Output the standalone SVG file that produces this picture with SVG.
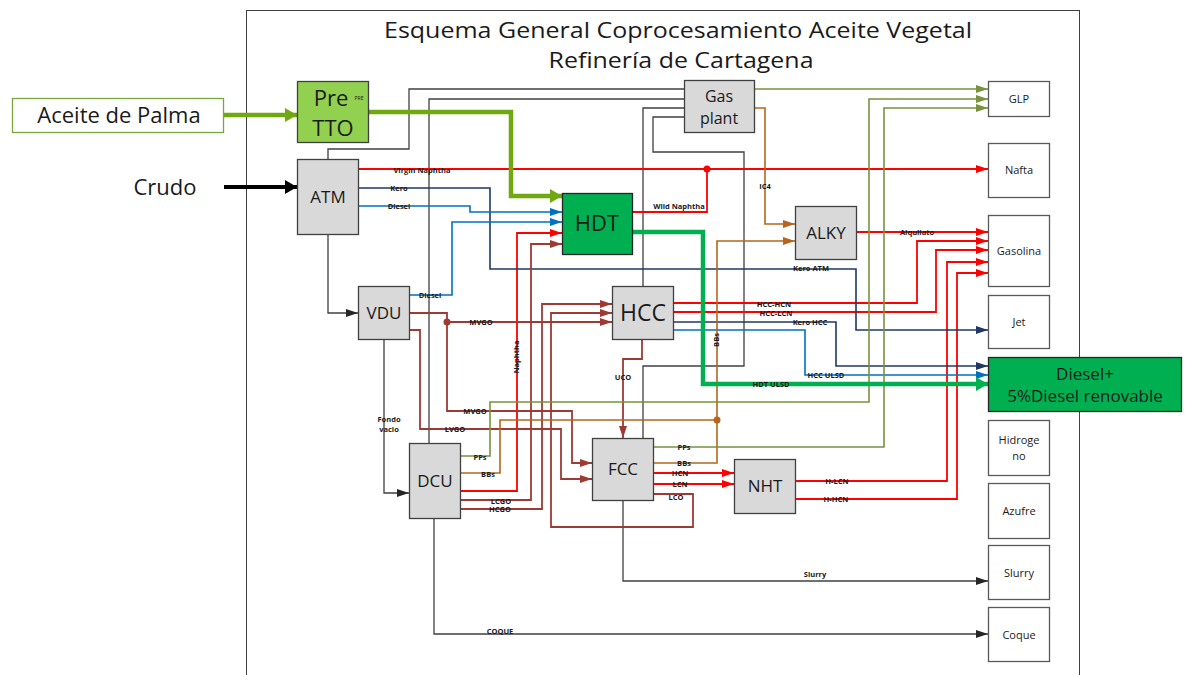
<svg xmlns="http://www.w3.org/2000/svg" width="1186" height="675" viewBox="0 0 1186 675">
<defs>
<style>
.fr{fill:none;stroke:#404040;stroke-width:1}
.unit{fill:#d9d9d9;stroke:#404040;stroke-width:1.3}
.out{fill:#fff;stroke:#595959;stroke-width:1.3}
.big{font-family:"Open Sans","Liberation Sans",sans-serif;fill:#1a1a1a;text-anchor:middle}
.lb{font-family:"Open Sans","Liberation Sans",sans-serif;font-size:7.5px;font-weight:bold;fill:#1a1a1a;text-anchor:middle}
.ob{font-family:"Open Sans","Liberation Sans",sans-serif;font-size:11px;fill:#1a1a1a;text-anchor:middle}
.k{fill:none;stroke:#404040;stroke-width:1.3}
.r{fill:none;stroke:#ff0000;stroke-width:1.8}
.db{fill:none;stroke:#203864;stroke-width:1.6}
.b{fill:none;stroke:#0070c0;stroke-width:1.6}
.br{fill:none;stroke:#9e3a34;stroke-width:1.8}
.or{fill:none;stroke:#b5651d;stroke-width:1.6}
.ol{fill:none;stroke:#77933c;stroke-width:1.6}
.g{fill:none;stroke:#00b050;stroke-width:4.5}
.pt{fill:none;stroke:#70a810;stroke-width:4.5}
.bk{fill:none;stroke:#000;stroke-width:4}
</style>
<marker id="mk" markerUnits="userSpaceOnUse" markerWidth="12" markerHeight="8" refX="12" refY="4" orient="auto"><path d="M0,0L12,4L0,8z" fill="#262626"/></marker>
<marker id="mr" markerUnits="userSpaceOnUse" markerWidth="12" markerHeight="8" refX="12" refY="4" orient="auto"><path d="M0,0L12,4L0,8z" fill="#ff0000"/></marker>
<marker id="mdb" markerUnits="userSpaceOnUse" markerWidth="12" markerHeight="8" refX="12" refY="4" orient="auto"><path d="M0,0L12,4L0,8z" fill="#203864"/></marker>
<marker id="mb" markerUnits="userSpaceOnUse" markerWidth="12" markerHeight="8" refX="12" refY="4" orient="auto"><path d="M0,0L12,4L0,8z" fill="#0070c0"/></marker>
<marker id="mbr" markerUnits="userSpaceOnUse" markerWidth="12" markerHeight="8" refX="12" refY="4" orient="auto"><path d="M0,0L12,4L0,8z" fill="#9e3a34"/></marker>
<marker id="mor" markerUnits="userSpaceOnUse" markerWidth="12" markerHeight="8" refX="12" refY="4" orient="auto"><path d="M0,0L12,4L0,8z" fill="#b5651d"/></marker>
<marker id="mol" markerUnits="userSpaceOnUse" markerWidth="12" markerHeight="8" refX="12" refY="4" orient="auto"><path d="M0,0L12,4L0,8z" fill="#77933c"/></marker>
<marker id="mg" markerUnits="userSpaceOnUse" markerWidth="12" markerHeight="14" refX="12" refY="7" orient="auto"><path d="M0,0L12,7L0,14z" fill="#00b050"/></marker>
<marker id="mpt" markerUnits="userSpaceOnUse" markerWidth="12" markerHeight="14" refX="12" refY="7" orient="auto"><path d="M0,0L12,7L0,14z" fill="#70a810"/></marker>
<marker id="mbk" markerUnits="userSpaceOnUse" markerWidth="12" markerHeight="14" refX="12" refY="7" orient="auto"><path d="M0,0L12,7L0,14z" fill="#000"/></marker>
</defs>
<rect x="0" y="0" width="1186" height="675" fill="#fff"/>
<rect class="fr" x="246.5" y="10.5" width="833" height="700"/>
<text class="big" x="678" y="38" font-size="22" textLength="588" lengthAdjust="spacingAndGlyphs">Esquema General Coprocesamiento Aceite Vegetal</text>
<text class="big" x="681" y="68" font-size="22" textLength="265" lengthAdjust="spacingAndGlyphs">Refinería de Cartagena</text>

<g id="connectors">
<path class="k" d="M328,159V149H409V89H684"/>
<path class="k" d="M429,443V99H684"/>
<path class="k" d="M684,108H643V286"/>
<path class="k" d="M684,117H653V152H744V366H643V438"/>
<path class="k" d="M328,234V313H358" marker-end="url(#mk)"/>
<path class="k" d="M384,339V493H409" marker-end="url(#mk)"/>
<path class="k" d="M623,500V581H988" marker-end="url(#mk)"/>
<path class="k" d="M434,518V634H988" marker-end="url(#mk)"/>

<path class="r" d="M358,169H988" marker-end="url(#mr)"/>
<path class="r" d="M632,212H707V169"/>
<circle cx="707" cy="169" r="3.5" fill="#ff0000"/>
<path class="r" d="M460,491H517V233H562" marker-end="url(#mr)"/>
<path class="r" d="M856,232H988" marker-end="url(#mr)"/>
<path class="r" d="M673,303H917V241H988" marker-end="url(#mr)"/>
<path class="r" d="M673,312H936V250H988" marker-end="url(#mr)"/>
<path class="r" d="M653,473H734" marker-end="url(#mr)"/>
<path class="r" d="M653,484H734" marker-end="url(#mr)"/>
<path class="r" d="M795,481H947V262H988" marker-end="url(#mr)"/>
<path class="r" d="M795,499H957V273H988" marker-end="url(#mr)"/>

<path class="db" d="M358,188H490V269H856V330H988" marker-end="url(#mdb)"/>
<path class="db" d="M673,322H836V366H988" marker-end="url(#mdb)"/>

<path class="b" d="M358,206H470V212H562" marker-end="url(#mb)"/>
<path class="b" d="M409,295H452V222H562" marker-end="url(#mb)"/>
<path class="b" d="M673,330H805V375H988" marker-end="url(#mb)"/>

<path class="br" d="M409,313H447V322"/>
<path class="br" d="M447,322H612" marker-end="url(#mbr)"/>
<path class="br" d="M447,322V411H572V463H592" marker-end="url(#mbr)"/>
<circle cx="447" cy="322" r="3.5" fill="#9e3a34"/>
<path class="br" d="M409,330H420V429H561V479H592" marker-end="url(#mbr)"/>
<path class="br" d="M460,500H531V244H562" marker-end="url(#mbr)"/>
<path class="br" d="M460,509H542V304H612" marker-end="url(#mbr)"/>
<path class="br" d="M653,494H693V527H551V313H612" marker-end="url(#mbr)"/>
<path class="br" d="M642,339V359H623V438" marker-end="url(#mbr)"/>

<path class="or" d="M754,108H765V224H795" marker-end="url(#mor)"/>
<path class="or" d="M653,463H717V241H795" marker-end="url(#mor)"/>
<path class="or" d="M460,473H500V420H717"/>
<circle cx="717" cy="420" r="3.5" fill="#b5651d"/>

<path class="ol" d="M754,89H988" marker-end="url(#mol)"/>
<path class="ol" d="M460,456H490V402H869V99H988" marker-end="url(#mol)"/>
<path class="ol" d="M653,447H884V108H988" marker-end="url(#mol)"/>

<path class="g" d="M632,232H703V384H988" marker-end="url(#mg)"/>
<path class="pt" d="M224,115H297" marker-end="url(#mpt)"/>
<path class="pt" d="M368,112H511V196H562" marker-end="url(#mpt)"/>
<path class="bk" d="M224,187H297" marker-end="url(#mbk)"/>

<text class="lb" x="422" y="172.5">Virgin Naphtha</text>
<text class="lb" x="399" y="190.5">Kero</text>
<text class="lb" x="399" y="208.5">Diesel</text>
<text class="lb" x="679" y="208.5">Wild Naphtha</text>
<text class="lb" x="765" y="188.5">IC4</text>
<text class="lb" x="917" y="234.5">Alquilato</text>
<text class="lb" x="811" y="270.5">Kero ATM</text>
<text class="lb" x="774" y="306.5">HCC-HCN</text>
<text class="lb" x="776" y="315.5">HCC-LCN</text>
<text class="lb" x="810" y="324.5">Kero HCC</text>
<text class="lb" x="826" y="377.5">HCC ULSD</text>
<text class="lb" x="771" y="386.5">HDT ULSD</text>
<text class="lb" x="623" y="379.5">UCO</text>
<text class="lb" transform="translate(718.5,340) rotate(-90)">BBs</text>
<text class="lb" transform="translate(518.5,357) rotate(-90)">Naphtha</text>
<text class="lb" x="430" y="297.5">Diesel</text>
<text class="lb" x="481" y="324.5">MVGO</text>
<text class="lb" x="475" y="413.5">MVGO</text>
<text class="lb" x="455" y="431.5">LVGO</text>
<text class="lb" x="389" y="421.5">Fondo</text>
<text class="lb" x="389" y="431.5">vacio</text>
<text class="lb" x="480" y="459.5">PPs</text>
<text class="lb" x="488" y="476.5">BBs</text>
<text class="lb" x="501" y="503.5">LCGO</text>
<text class="lb" x="500" y="511.5">HCGO</text>
<text class="lb" x="684" y="449.5">PPs</text>
<text class="lb" x="684" y="465.5">BBs</text>
<text class="lb" x="680" y="475.5">HCN</text>
<text class="lb" x="680" y="486.5">LCN</text>
<text class="lb" x="676" y="499.5">LCO</text>
<text class="lb" x="837" y="483.5">H-LCN</text>
<text class="lb" x="836" y="501.5">H-HCN</text>
<text class="lb" x="815" y="576.5">Slurry</text>
<text class="lb" x="500" y="633.5">COQUE</text>
</g>

<g id="aceite"><rect x="12.5" y="98.5" width="211" height="34" fill="#fff" stroke="#77a83c" stroke-width="1.3"/><text class="big" x="119" y="123" font-size="22">Aceite de Palma</text></g>
<g id="crudo"><text class="big" x="165" y="195" font-size="22">Crudo</text></g>
<g id="pretto"><rect x="297.5" y="81.5" width="71" height="61" fill="#92d050" stroke="#404040" stroke-width="1.3"/><text class="big" x="331" y="106" font-size="22">Pre</text><text class="big" x="333" y="136" font-size="22">TTO</text><text class="big" x="359" y="100" font-size="5" fill="#555">PRE</text></g>
<g id="atm"><rect class="unit" x="297.5" y="159.5" width="61" height="75"/><text class="big" x="328" y="203" font-size="17">ATM</text></g>
<g id="gasplant"><rect class="unit" x="684.5" y="80.5" width="70" height="52"/><text class="big" x="719" y="102" font-size="16">Gas</text><text class="big" x="719" y="124" font-size="16">plant</text></g>
<g id="hdt"><rect x="562.5" y="193.5" width="70" height="61" fill="#00b050" stroke="#262626" stroke-width="1.3"/><text class="big" x="597" y="231" font-size="22">HDT</text></g>
<g id="alky"><rect class="unit" x="795.5" y="206.5" width="61" height="53"/><text class="big" x="826" y="239" font-size="17">ALKY</text></g>
<g id="vdu"><rect class="unit" x="358.5" y="286.5" width="51" height="53"/><text class="big" x="384" y="319" font-size="17">VDU</text></g>
<g id="hcc"><rect class="unit" x="612.5" y="286.5" width="61" height="53"/><text class="big" x="643" y="321" font-size="23">HCC</text></g>
<g id="dcu"><rect class="unit" x="409.5" y="443.5" width="51" height="75"/><text class="big" x="435" y="487" font-size="17">DCU</text></g>
<g id="fcc"><rect class="unit" x="592.5" y="438.5" width="61" height="62"/><text class="big" x="623" y="475" font-size="17">FCC</text></g>
<g id="nht"><rect class="unit" x="734.5" y="459.5" width="61" height="54"/><text class="big" x="765" y="492" font-size="17">NHT</text></g>
<g id="glp"><rect class="out" x="988.5" y="81.5" width="61" height="35"/><text class="ob" x="1019" y="103">GLP</text></g>
<g id="nafta"><rect class="out" x="988.5" y="143.5" width="61" height="54"/><text class="ob" x="1019" y="174">Nafta</text></g>
<g id="gasolina"><rect class="out" x="988.5" y="215.5" width="61" height="71"/><text class="ob" x="1019" y="255">Gasolina</text></g>
<g id="jet"><rect class="out" x="988.5" y="295.5" width="61" height="53"/><text class="ob" x="1019" y="326">Jet</text></g>
<g id="diesel"><rect x="988.5" y="357.5" width="193" height="54" fill="#00b050" stroke="#262626" stroke-width="1.3"/><text class="big" x="1085" y="380" font-size="17">Diesel+</text><text class="big" x="1085" y="402" font-size="17">5%Diesel renovable</text></g>
<g id="hidrogeno"><rect class="out" x="988.5" y="420.5" width="61" height="55"/><text class="ob" x="1019" y="444">Hidroge</text><text class="ob" x="1019" y="460">no</text></g>
<g id="azufre"><rect class="out" x="988.5" y="483.5" width="61" height="55"/><text class="ob" x="1019" y="515">Azufre</text></g>
<g id="slurry"><rect class="out" x="988.5" y="545.5" width="61" height="54"/><text class="ob" x="1019" y="577">Slurry</text></g>
<g id="coque"><rect class="out" x="988.5" y="607.5" width="61" height="54"/><text class="ob" x="1019" y="639">Coque</text></g>
</svg>
